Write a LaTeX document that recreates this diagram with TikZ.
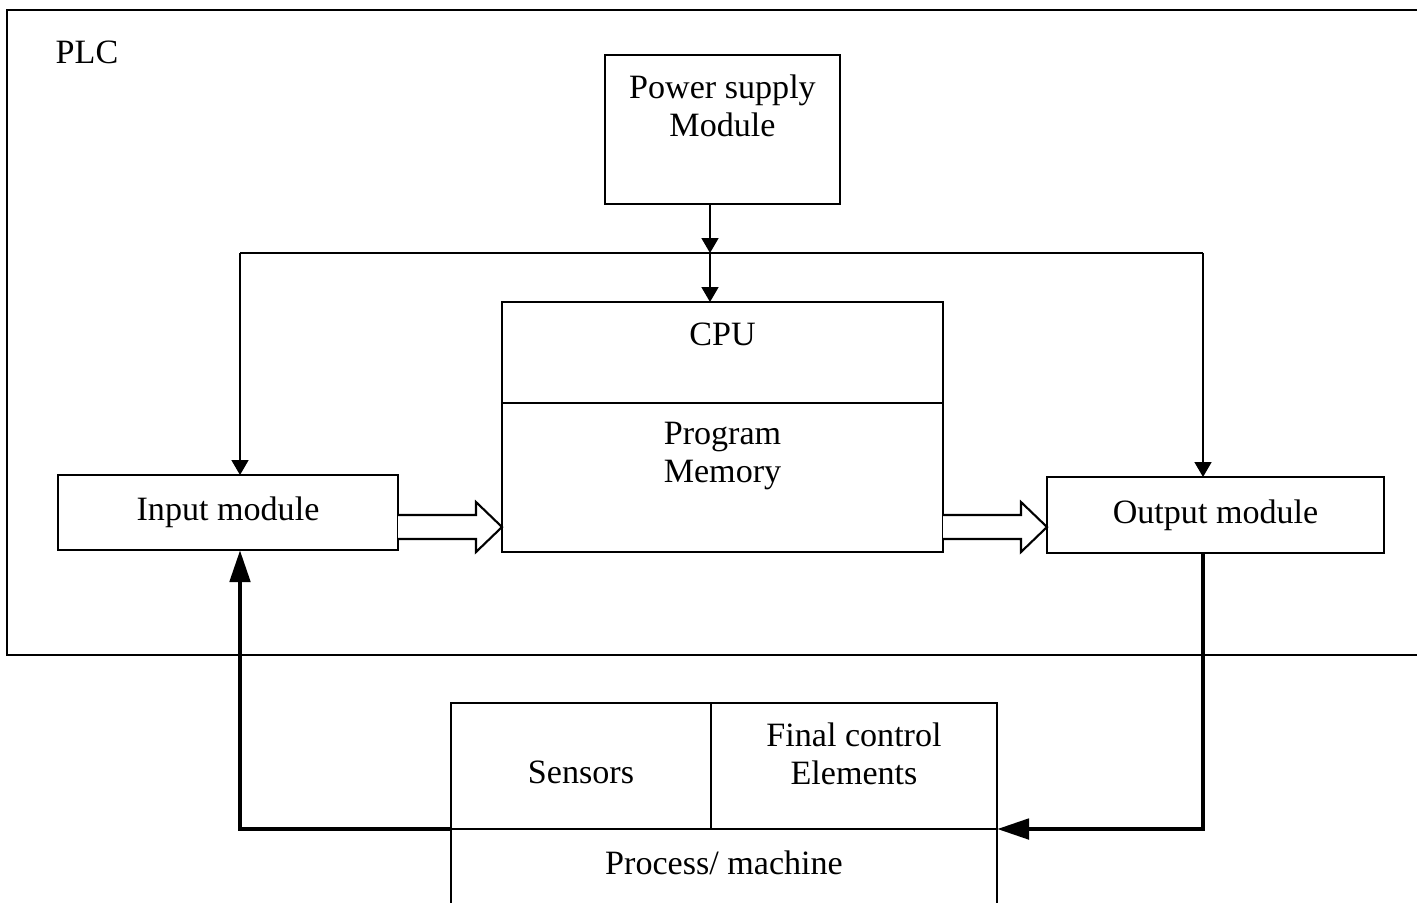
\documentclass[tikz,border=0pt]{standalone}
\usepackage{fontspec}
\setmainfont{Liberation Serif}
\usepackage{tikz}
\usetikzlibrary{positioning, arrows.meta}

\begin{document}
\begin{tikzpicture}[
    every node/.style={font=\fontsize{9.7}{10.8}\selectfont},
    box/.style={draw, line width=0.7pt, inner sep=0pt, outer sep=0pt},
    txt/.style={align=center, inner sep=0pt},
    wire/.style={line width=0.45pt},
    feed/.style={wire, -{Triangle[length=1.5mm, width=1.7mm]}},
    loop/.style={line width=1.4pt, -{Triangle[length=3.2mm, width=2mm]}},
    fat/.style={line width=0.6pt, fill=white},
    node distance=0cm
]
    \useasboundingbox (0,0) rectangle (14.17,-9.02);
    \clip (0,0) rectangle (14.17,-9.02);
    \draw[line width=0.7pt] (14.17,-0.10) -| (0.07,-6.55) -- (14.17,-6.55);
    \node (plc) at (0.87,-0.52) {PLC};

    \node[box, minimum width=2.35cm, minimum height=1.49cm] (ps) at (7.225,-1.295) {};
    \node[txt, below=0.19 of ps.north] (psText) {Power supply\\Module};

    \node[box, minimum width=4.41cm, text height=0.43cm, text depth=0.58cm] (cpu) at (7.225,-3.525) {CPU};
    \node[box, minimum width=4.41cm, minimum height=1.49cm, below=of cpu] (mem) {};
    \node[txt, below=0.18 of mem.north] (memText) {Program\\Memory};

    \node[box, minimum width=3.40cm, minimum height=0.75cm] (in) at (2.28,-5.125) {Input module};
    \node[box, minimum width=3.37cm, minimum height=0.76cm] (out) at (12.155,-5.15) {Output module};

    \node[box, minimum width=2.60cm, text height=0.80cm, text depth=0.46cm] (sens) at (5.81,-7.66) {Sensors};
    \node[box, minimum width=2.86cm, minimum height=1.26cm, right=of sens] (fce) {};
    \node[txt, below=0.19 of fce.north] (fceText) {Final control\\Elements};
    \node[box, minimum width=5.46cm, text height=0.45cm, text depth=1cm, anchor=north west] (proc) at (sens.south west) {Process/ machine};

    \coordinate (tap) at (7.10,-2.53);
    \coordinate (busL) at (2.40,-2.53);
    \coordinate (busR) at (12.03,-2.53);
    \draw[feed] (tap |- ps.south) -- (tap);
    \draw[feed] (tap) -- (tap |- cpu.north);
    \draw[wire] (busL) -- (busR);
    \draw[feed] (busL) -- (busL |- in.north);
    \draw[feed] (busR) -- (busR |- out.north);

    \coordinate (fy) at (0,-5.27);
    \foreach \a/\b in {in/mem, mem/out} {
        \coordinate (s) at (\a.east |- fy);
        \coordinate (t) at (\b.west |- fy);
        \draw[fat] ([yshift=1.2mm]s) -- ([xshift=-2.6mm, yshift=1.2mm]t) -- ([xshift=-2.6mm, yshift=2.5mm]t) -- (t)
            -- ([xshift=-2.6mm, yshift=-2.5mm]t) -- ([xshift=-2.6mm, yshift=-1.2mm]t) -- ([yshift=-1.2mm]s);
    }

    \draw[loop] (busR |- out.south) |- (proc.north east);
    \draw[loop] (proc.north west) -| (busL |- in.south);
\end{tikzpicture}
\end{document}
